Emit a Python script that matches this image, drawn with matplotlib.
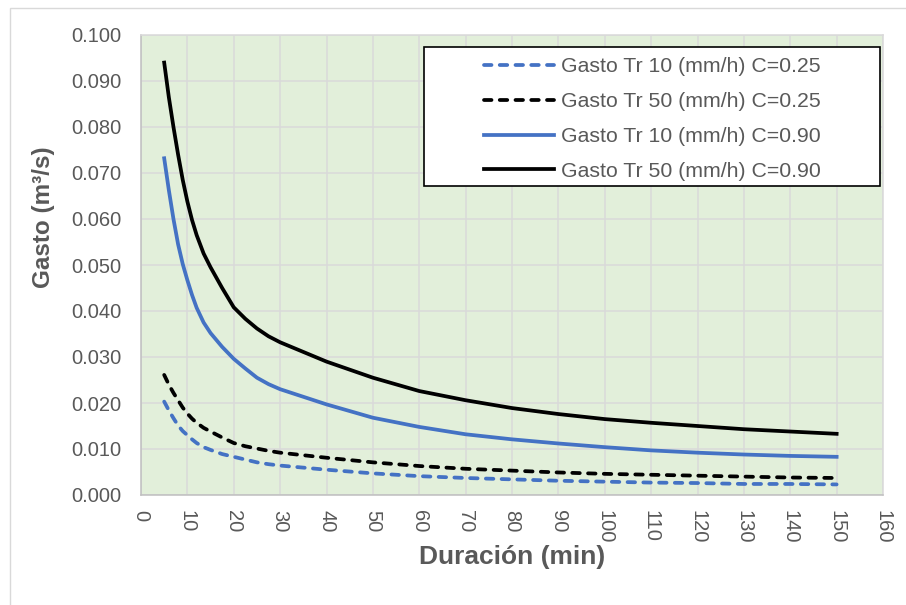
import matplotlib
matplotlib.use("Agg")
import matplotlib.pyplot as plt
from matplotlib.patches import Rectangle
from matplotlib.ticker import FormatStrFormatter, MultipleLocator

plt.rcParams['font.family'] = ['Liberation Sans', 'DejaVu Sans']

# duracion de la tormenta (min)
duracion = [5, 6, 7, 8, 9, 10, 11, 12, 13.5, 15, 17.5, 20, 22.5, 25, 27.5, 30,
            40, 50, 60, 70, 80, 90, 100, 110, 120, 130, 140, 150]

# gasto (m3/s) para cada periodo de retorno y coeficiente de escurrimiento
q_tr10_c025 = [0.0203, 0.0184, 0.0167, 0.0151, 0.0139, 0.0130, 0.0121, 0.0113,
               0.0104, 0.0098, 0.0089, 0.0083, 0.0077, 0.0071, 0.0067, 0.0064,
               0.0055, 0.0047, 0.0041, 0.0037, 0.0034, 0.0031, 0.0029, 0.0027,
               0.0026, 0.0024, 0.0024, 0.0023]
q_tr50_c025 = [0.0261, 0.0240, 0.0222, 0.0206, 0.0190, 0.0177, 0.0166, 0.0157,
               0.0146, 0.0138, 0.0125, 0.0113, 0.0106, 0.0101, 0.0096, 0.0092,
               0.0081, 0.0071, 0.0063, 0.0057, 0.0053, 0.0049, 0.0046, 0.0044,
               0.0042, 0.0040, 0.0038, 0.0037]
q_tr10_c090 = [0.0732, 0.0663, 0.0600, 0.0545, 0.0502, 0.0467, 0.0435, 0.0407,
               0.0375, 0.0352, 0.0322, 0.0296, 0.0275, 0.0255, 0.0241, 0.0230,
               0.0197, 0.0168, 0.0148, 0.0132, 0.0121, 0.0112, 0.0104, 0.0097,
               0.0092, 0.0088, 0.0085, 0.0083]
q_tr50_c090 = [0.0940, 0.0865, 0.0800, 0.0740, 0.0685, 0.0638, 0.0598, 0.0565,
               0.0525, 0.0495, 0.0450, 0.0408, 0.0383, 0.0362, 0.0345, 0.0332,
               0.0290, 0.0255, 0.0226, 0.0206, 0.0189, 0.0176, 0.0165, 0.0157,
               0.0150, 0.0143, 0.0138, 0.0133]

labels = ['Gasto Tr 10 (mm/h) C=0.25', 'Gasto Tr 50 (mm/h) C=0.25',
          'Gasto Tr 10 (mm/h) C=0.90', 'Gasto Tr 50 (mm/h) C=0.90']

blue = '#4472C4'
black = '#000000'
grey_text = '#595959'

fig = plt.figure(figsize=(9.06, 6.05), dpi=100)
ax = fig.add_axes([141 / 906, 1 - 495 / 605, 742 / 906, 460 / 605])
ax.set_facecolor('#E2EFDA')

# borde del area del grafico
fig.patches.append(Rectangle((10 / 906, -0.05), 1.1, 1.05 - 7.5 / 605,
                             transform=fig.transFigure, facecolor='none',
                             edgecolor='#D9D9D9', linewidth=1.0))

lw = 2.7
dash = (2.0, 2.2)
ax.plot(duracion, q_tr10_c025, color=blue, lw=lw, dashes=dash,
        dash_capstyle='round', dash_joinstyle='round', label=labels[0])
ax.plot(duracion, q_tr50_c025, color=black, lw=lw, dashes=dash,
        dash_capstyle='round', dash_joinstyle='round', label=labels[1])
ax.plot(duracion, q_tr10_c090, color=blue, lw=lw, solid_joinstyle='round',
        label=labels[2])
ax.plot(duracion, q_tr50_c090, color=black, lw=lw, solid_joinstyle='round',
        label=labels[3])

ax.set_xlim(0, 160)
ax.set_ylim(0, 0.1)
ax.xaxis.set_major_locator(MultipleLocator(10))
ax.yaxis.set_major_locator(MultipleLocator(0.01))
ax.yaxis.set_major_formatter(FormatStrFormatter('%.3f'))
ax.grid(color='#D9D9D9', linewidth=1.1)
ax.set_axisbelow(True)

for side in ['left', 'bottom']:
    ax.spines[side].set_color('#BFBFBF')
    ax.spines[side].set_linewidth(1.1)
for side in ['top', 'right']:
    ax.spines[side].set_color('#D9D9D9')
    ax.spines[side].set_linewidth(1.1)

ax.tick_params(axis='both', length=0, labelsize=14.5, labelcolor=grey_text)
ax.tick_params(axis='y', pad=14)
ax.tick_params(axis='x', pad=11)
for lab in ax.get_xticklabels():
    lab.set_rotation(-90)
    lab.set_va('top')
    lab.set_ha('center')

ax.set_xlabel('Duración (min)', fontsize=19, fontweight='bold', color=grey_text)
ax.set_ylabel('Gasto (m³/s)', fontsize=17.5, fontweight='bold', color=grey_text)
ax.xaxis.set_label_coords(0.5, -0.108)
ax.yaxis.set_label_coords(-0.116, 0.604)

# cuadro de la leyenda
ax.add_patch(Rectangle((0.3814, 0.672), 0.6146, 0.302, transform=ax.transAxes,
                       facecolor='white', edgecolor='black', linewidth=1.2,
                       zorder=4))
leg = ax.legend(loc='upper left', bbox_to_anchor=(0.462, 0.952),
                frameon=False, fontsize=15.3, handlelength=3.3,
                handletextpad=0.35, labelspacing=0.75, borderpad=0,
                borderaxespad=0)
leg.set_zorder(5)
for txt in leg.get_texts():
    txt.set_color(grey_text)

fig.savefig('out.png', dpi=100)
